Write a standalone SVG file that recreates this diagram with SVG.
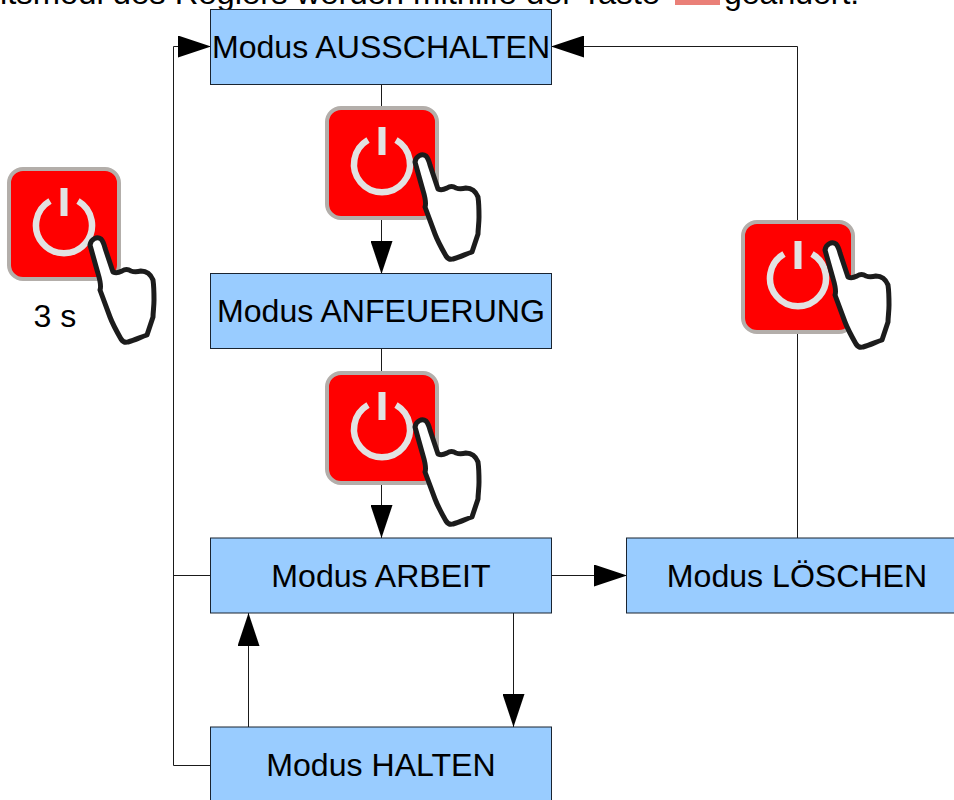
<svg xmlns="http://www.w3.org/2000/svg" xmlns:xlink="http://www.w3.org/1999/xlink" width="954" height="800" viewBox="0 0 954 800">
<style>
.box{fill:#99ccff;stroke:#1a2430;stroke-width:1}
.lbl{font-family:"Liberation Sans",Arial,sans-serif;font-size:32.1px;fill:#000;text-anchor:middle}
.top{font-family:"Liberation Sans",Arial,sans-serif;font-size:32px;fill:#000}
.conn{fill:none;stroke:#1a1a1a;stroke-width:1}
</style>
<defs>
<marker id="ah" markerUnits="userSpaceOnUse" markerWidth="33" markerHeight="22" refX="33" refY="11" orient="auto"><path d="M0 0L33 11L0 22Z" fill="#000"/></marker>
<symbol id="btn" width="114" height="114" viewBox="0 0 114 114" overflow="visible">
<rect x="2" y="2" width="110" height="110" rx="14" fill="#f00" stroke="#b3aeaa" stroke-width="4"/>
<path d="M43 34A28 28 0 1 0 71 34" fill="none" stroke="#e2e2e2" stroke-width="6.5"/>
<rect x="53.500" y="21" width="7" height="28" fill="#e2e2e2"/>
</symbol>
<symbol id="hand" width="160" height="185" viewBox="0 0 160 185" overflow="visible">
<path d="M83 78C84 72 90 69 94 72C96 74 97 77 98 81L106 105C110 107 113 105 115 104C118 102 121 102 124 104C127 105 130 105 134 104C140 104 144 108 146 113C147 120 147 126 147 133C147 140 146 145 146 150L140 168C134 170 128 173 121 175C118 176 116 175 114 172C110 165 106 158 103 150L93 123C95 118 92 110 90 103Z" fill="#fff" stroke="#1c1c1c" stroke-width="5" stroke-linejoin="round"/>
</symbol>
</defs>
<rect width="954" height="800" fill="#fff"/>
<g id="caption">
<text class="top" x="0" y="4" textLength="660" lengthAdjust="spacingAndGlyphs">itsmodi des Reglers werden mithilfe der Taste</text>
<rect x="675" y="0" width="45" height="5" fill="#ea8078"/>
<text class="top" x="724" y="4">geändert.</text>
</g>
<g id="connectors">
<path class="conn" d="M211 765.500H173.500V46.500H211" marker-end="url(#ah)"/>
<path class="conn" d="M211 575.500H173.500"/>
<path class="conn" d="M797.500 538V46.500H551" marker-end="url(#ah)"/>
<path class="conn" d="M381.500 84V274" marker-end="url(#ah)"/>
<path class="conn" d="M381.500 349V538" marker-end="url(#ah)"/>
<path class="conn" d="M551 575.500H627" marker-end="url(#ah)"/>
<path class="conn" d="M513.500 613V727" marker-end="url(#ah)"/>
<path class="conn" d="M248.500 727V613" marker-end="url(#ah)"/>
</g>
<g id="node-ausschalten"><rect class="box" x="210.500" y="9.500" width="341" height="75"/><text class="lbl" x="381" y="58">Modus AUSSCHALTEN</text></g>
<g id="node-anfeuerung"><rect class="box" x="210.500" y="273.500" width="341" height="75"/><text class="lbl" x="381" y="322">Modus ANFEUERUNG</text></g>
<g id="node-arbeit"><rect class="box" x="210.500" y="538" width="341" height="75"/><text class="lbl" x="381" y="587">Modus ARBEIT</text></g>
<g id="node-halten"><rect class="box" x="210.500" y="727" width="341" height="75"/><text class="lbl" x="381" y="776">Modus HALTEN</text></g>
<g id="node-loeschen"><rect class="box" x="626.500" y="538" width="330" height="75"/><text class="lbl" x="797" y="587">Modus LÖSCHEN</text></g>
<g id="button-3s"><use href="#btn" x="7" y="167"/><use href="#hand" x="7" y="167"/><text class="lbl" x="55" y="327">3 s</text></g>
<g id="button-1"><use href="#btn" x="325" y="106"/><use href="#hand" x="332" y="84"/></g>
<g id="button-2"><use href="#btn" x="325" y="371"/><use href="#hand" x="332" y="349"/></g>
<g id="button-3"><use href="#btn" x="741" y="220"/><use href="#hand" x="742" y="172"/></g>
</svg>
